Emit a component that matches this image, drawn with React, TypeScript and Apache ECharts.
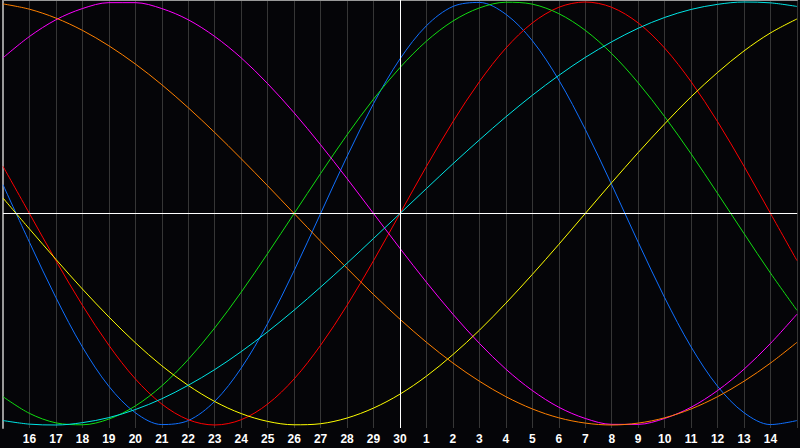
import { useEffect, useRef } from "react";
import * as echarts from "echarts";

// Day-of-month labels, 15 days before to 15 days after "30"
const dayLabels = [
  "15", "16", "17", "18", "19", "20", "21", "22", "23", "24", "25", "26", "27", "28", "29",
  "30",
  "1", "2", "3", "4", "5", "6", "7", "8", "9", "10", "11", "12", "13", "14", "15",
];

// Cycle values per day (−1 … 1)
const blueCycle = [
  0.136, -0.136, -0.398, -0.631, -0.817, -0.942, -0.998, -0.979, -0.888, -0.731, -0.52, -0.27, 0, 0.27, 0.52,
  0.731, 0.888, 0.979, 0.998, 0.942, 0.817, 0.631, 0.398, 0.136, -0.136, -0.398, -0.631, -0.817, -0.942, -0.998, -0.979,
];
const redCycle = [
  0.223, 0, -0.223, -0.434, -0.623, -0.782, -0.901, -0.975, -1, -0.975, -0.901, -0.782, -0.623, -0.434, -0.223,
  0, 0.223, 0.434, 0.623, 0.782, 0.901, 0.975, 1, 0.975, 0.901, 0.782, 0.623, 0.434, 0.223, 0, -0.223,
];
const greenCycle = [
  -0.866, -0.945, -0.99, -0.999, -0.972, -0.91, -0.815, -0.69, -0.541, -0.372, -0.189, 0, 0.189, 0.372, 0.541,
  0.69, 0.815, 0.91, 0.972, 0.999, 0.99, 0.945, 0.866, 0.756, 0.618, 0.458, 0.282, 0.095, -0.095, -0.282, -0.458,
];
const magentaCycle = [
  0.736, 0.837, 0.916, 0.969, 0.997, 0.997, 0.969, 0.916, 0.837, 0.736, 0.614, 0.476, 0.325, 0.165, 0,
  -0.165, -0.325, -0.476, -0.614, -0.736, -0.837, -0.916, -0.969, -0.997, -0.997, -0.969, -0.916, -0.837, -0.736, -0.614, -0.476,
];
const yellowCycle = [
  0.073, -0.073, -0.217, -0.357, -0.489, -0.611, -0.72, -0.813, -0.889, -0.946, -0.983, -0.999, -0.994, -0.967, -0.92,
  -0.854, -0.769, -0.667, -0.552, -0.424, -0.288, -0.146, 0, 0.146, 0.288, 0.424, 0.552, 0.667, 0.769, 0.854, 0.92,
];
const orangeCycle = [
  0.991, 0.966, 0.924, 0.866, 0.793, 0.707, 0.609, 0.5, 0.383, 0.259, 0.131, 0, -0.131, -0.259, -0.383,
  -0.5, -0.609, -0.707, -0.793, -0.866, -0.924, -0.966, -0.991, -1, -0.991, -0.966, -0.924, -0.866, -0.793, -0.707, -0.609,
];
const cyanCycle = [
  -0.979, -0.996, -1, -0.989, -0.965, -0.927, -0.876, -0.812, -0.738, -0.653, -0.559, -0.457, -0.348, -0.235, -0.118,
  0, 0.118, 0.235, 0.348, 0.457, 0.559, 0.653, 0.738, 0.812, 0.876, 0.927, 0.965, 0.989, 1, 0.996, 0.979,
];

const seriesList = [
  { name: "blue", data: blueCycle, color: "#1070ff" },
  { name: "red", data: redCycle, color: "#ff0000" },
  { name: "green", data: greenCycle, color: "#11dd11" },
  { name: "magenta", data: magentaCycle, color: "#ff00ff" },
  { name: "yellow", data: yellowCycle, color: "#ffff00" },
  { name: "orange", data: orangeCycle, color: "#ff8000" },
  { name: "cyan", data: cyanCycle, color: "#00e5e5" },
];

const todayIndex = 15;

export default function App() {
  const ref = useRef<HTMLDivElement>(null);

  useEffect(() => {
    document.body.style.margin = "0";
    const chart = echarts.init(ref.current!, null, { renderer: "svg" });
    const last = dayLabels.length - 1;
    chart.setOption({
      animation: false,
      backgroundColor: "#050508",
      grid: { left: 0, right: 0, top: 0, height: 428 },
      xAxis: [
        {
          type: "category",
          data: dayLabels,
          boundaryGap: false,
          position: "bottom",
          axisLine: { show: true, lineStyle: { color: "#a0a0a0", width: 1 } },
          axisTick: { show: false },
          splitLine: { show: true, interval: 0, lineStyle: { color: "#363636", width: 1 } },
          axisLabel: {
            interval: 0,
            color: "#ffffff",
            fontWeight: "bold",
            fontSize: 12,
            fontFamily: "Liberation Sans",
            margin: 5,
            formatter: (v: string, i: number) => (i === 0 || i === last ? "" : v),
          },
        },
        {
          type: "category",
          data: dayLabels,
          boundaryGap: false,
          position: "top",
          axisLine: { show: true, lineStyle: { color: "#999999", width: 2 } },
          axisTick: { show: false },
          axisLabel: { show: false },
          splitLine: { show: false },
        },
      ],
      yAxis: {
        type: "value",
        min: -1.0142,
        max: 1.0095,
        axisLine: { show: true, lineStyle: { color: "#999999", width: 2 } },
        axisTick: { show: false },
        axisLabel: { show: false },
        splitLine: { show: false },
      },
      series: [
        ...seriesList.map((s) => ({
          name: s.name,
          type: "line",
          data: s.data,
          smooth: 0.33,
          showSymbol: false,
          silent: true,
          lineStyle: { color: s.color, width: 1 },
          itemStyle: { color: s.color },
        })),
        {
          name: "centre",
          type: "line",
          data: [],
          silent: true,
          markLine: {
            silent: true,
            symbol: "none",
            label: { show: false },
            lineStyle: { color: "#ffffff", width: 1, type: "solid" },
            data: [{ yAxis: 0 }, { xAxis: todayIndex }],
          },
        },
      ],
    });
    return () => chart.dispose();
  }, []);

  return (
    <div
      ref={ref}
      style={{ position: "fixed", left: 0, top: 0, width: 800, height: 448, background: "#050508" }}
    />
  );
}
